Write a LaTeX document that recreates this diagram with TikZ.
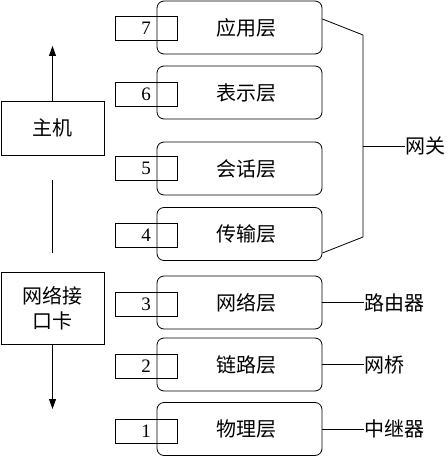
\documentclass[tikz,border=0pt]{standalone}
\usepackage{fontspec}
\setmainfont{Liberation Serif}
\newfontfamily\cjk{Noto Sans CJK SC}
\usetikzlibrary{arrows.meta, calc, positioning}
\tikzset{
  layer/.style={draw, rounded corners=7pt, minimum width=165pt, minimum height=53pt,
    inner sep=0pt, font=\cjk\fontsize{20}{24}\selectfont},
  numbox/.style={draw, minimum width=62pt, minimum height=24pt, inner sep=0pt,
    font=\fontsize{19}{22}\selectfont},
  side/.style={draw, minimum width=103pt, inner sep=0pt, align=center,
    font=\cjk\fontsize{20}{25}\selectfont},
  dev/.style={inner sep=0pt, anchor=west, font=\cjk\fontsize{20}{24}\selectfont},
  up/.style={-{Triangle[length=10pt, width=7pt]}},
}

\begin{document}
\begin{tikzpicture}[x=1pt, y=-1pt, line width=0.8pt]
  \useasboundingbox (0,0) rectangle (447,457);
  % seven layers with their numbers
  \foreach \n/\ly/\by/\t in {7/27.5/28.5/应用层, 6/92.5/94.5/表示层, 5/168.5/168.5/会话层,
      4/234/235.5/传输层, 3/302.5/304.5/网络层, 2/364.5/366.5/链路层, 1/429/431.5/物理层}{
    \node[layer] (l\n) at (239.5,\ly) {\hspace*{14pt}\t};
    \node[numbox] (n\n) at (146,\by) {\n};
  }
  % host and network card
  \node[side, minimum height=54pt] (host) at (52.5,128) {主机};
  \node[side, minimum height=72pt] (nic) at (52.5,308) {网络接\\口卡};
  \coordinate (hosttop) at (52.5,46);
  \coordinate (nicbot) at (52.5,409);
  \draw[up] (host.north) -- (hosttop);
  \draw[up] (nic.south) -- (nicbot);
  \draw (52.5,180) -- (52.5,253);
  % gateway bracket
  \coordinate (gw) at (363,146);
  \node[dev] (gate) at (405,146) {网关};
  \draw ($(l7.east)+(0,-8.5)$) -- (363,35) -- (363,237) -- ($(l4.east)+(0,19)$);
  \draw (gw) -- (gate.west);
  % devices on the lower layers
  \node[dev] (router) at (364,302.5) {路由器};
  \node[dev] (bridge) at (364,364.5) {网桥};
  \node[dev] (repeat) at (364,429) {中继器};
  \draw (l3.east) -- (router.west);
  \draw (l2.east) -- (bridge.west);
  \draw (l1.east) -- (repeat.west);
\end{tikzpicture}
\end{document}
